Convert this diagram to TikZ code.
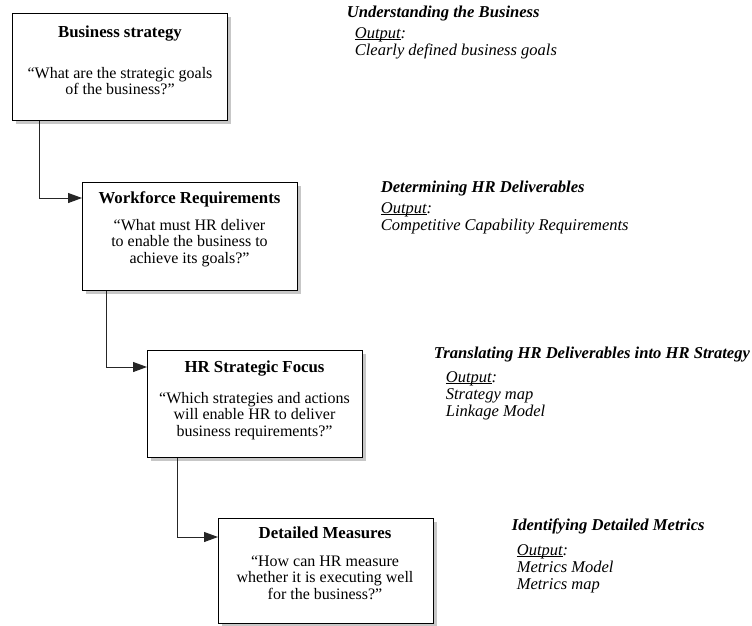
\documentclass[tikz,border=0pt]{standalone}
\usepackage{fontspec}
\setmainfont{Liberation Serif}
\usetikzlibrary{arrows.meta,shadows}
% underline that sits close to the baseline
\newcommand\undl[1]{\setbox0\hbox{#1}\rlap{\rule[-1.7pt]{\wd0}{0.7pt}}\box0}

\begin{document}
\begin{tikzpicture}[x=1pt,y=-1pt,->,>={Triangle[length=14pt,width=10pt]},
  line width=1pt,
  every node/.style={font=\fontsize{16}{16.5}\selectfont},
  main node/.style={rectangle,draw,-,line width=1.2pt,fill=white,anchor=north west,
    minimum width=215pt,inner sep=0pt,
    drop shadow={shadow xshift=3pt,shadow yshift=-3pt,fill=black!22,opacity=1}},
  title node/.style={anchor=base,font=\fontsize{16.8}{17}\selectfont\bfseries},
  text node/.style={anchor=base,align=center},
  head node/.style={anchor=base west,font=\fontsize{16.6}{17}\selectfont\bfseries\itshape},
  out node/.style={anchor=base west,align=left,font=\fontsize{16.5}{17}\selectfont\itshape}]

  \useasboundingbox (0,0) rectangle (752,625);

  % boxes
  \node[main node,minimum height=107pt] (1) at (12,13) {};
  \node[main node,minimum height=108pt] (2) at (82,182) {};
  \node[main node,minimum height=107pt] (3) at (147,350) {};
  \node[main node,minimum height=105pt] (4) at (218,518) {};

  % texts in the boxes (a multi-line node sits on its last line)
  \node[title node] (t1) at (120,37) {Business strategy};
  \node[text node] (q1) at (120,94.5) {``What are the strategic goals\\of the business?''};
  \node[title node] (t2) at (189.5,203) {Workforce Requirements};
  \node[text node] (q2) at (189.5,263) {``What must HR deliver\\to enable the business to\\achieve its goals?''};
  \node[title node] (t3) at (254.5,372) {HR Strategic Focus};
  \node[text node] (q3) at (254.5,436) {``Which strategies and actions\\will enable HR to deliver\\business requirements?''};
  \node[title node] (t4) at (325,538) {Detailed Measures};
  \node[text node] (q4) at (325,599) {``How can HR measure\\whether it is executing well\\for the business?''};

  % notes on the right
  \node[head node] (h1) at (343,17) {Understanding the Business};
  \node[out node] (o1) at (351,55) {\undl{Output}:\\Clearly defined business goals};
  \node[head node] (h2) at (377,192) {Determining HR Deliverables};
  \node[out node] (o2) at (377,230) {\undl{Output}:\\Competitive Capability Requirements};
  \node[head node] (h3) at (430,358) {Translating HR Deliverables into HR Strategy};
  \node[out node] (o3) at (442,416) {\undl{Output}:\\Strategy map\\Linkage Model};
  \node[head node] (h4) at (508,530) {Identifying Detailed Metrics};
  \node[out node] (o4) at (513,589) {\undl{Output}:\\Metrics Model\\Metrics map};

  % connectors
  \coordinate (k1) at (39,198);
  \coordinate (k2) at (106,367);
  \coordinate (k3) at (177,537);
  \draw[black!85] (1.south -| k1) |- (2.west |- k1);
  \draw[black!85] (2.south -| k2) |- (3.west |- k2);
  \draw[black!85] (3.south -| k3) |- (4.west |- k3);
\end{tikzpicture}
\end{document}
